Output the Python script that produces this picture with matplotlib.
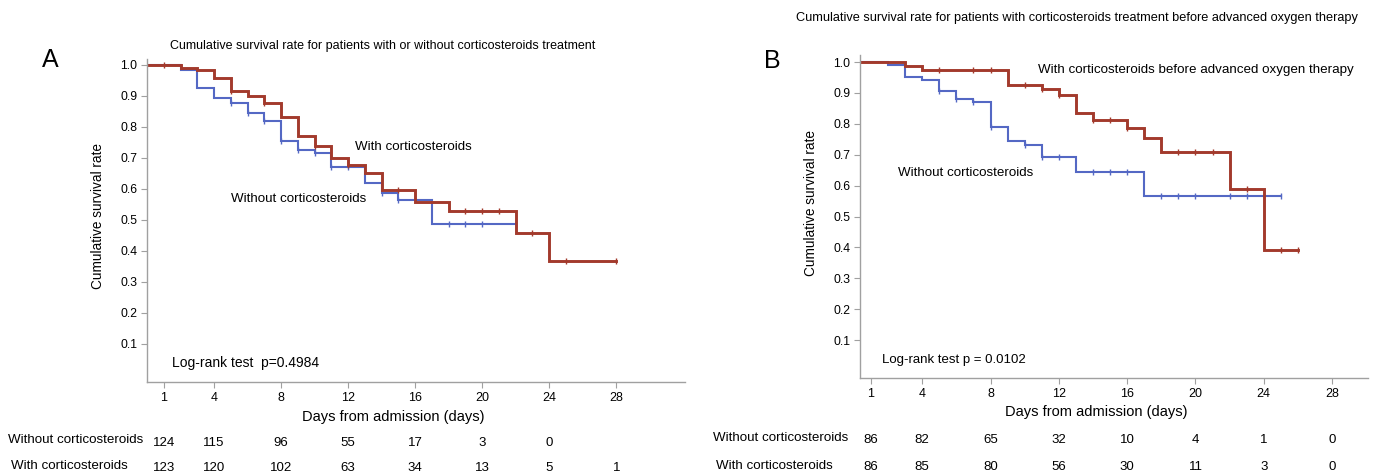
import numpy as np
import matplotlib.pyplot as plt
from matplotlib.transforms import blended_transform_factory

plt.rcParams['font.family'] = ['Liberation Sans', 'DejaVu Sans']
NARROW = ['Liberation Sans Narrow', 'Liberation Sans', 'DejaVu Sans']

W, H = 1376, 475
RED = '#A33A2C'
BLUE = '#5468C4'
GRAY = '#A0A0A0'

day_ticks = [1, 4, 8, 12, 16, 20, 24, 28]
surv_ticks = [0.1, 0.2, 0.3, 0.4, 0.5, 0.6, 0.7, 0.8, 0.9, 1.0]

# Panel A: with / without corticosteroids
a_with_times = [2, 3, 4, 5, 6, 7, 8, 9, 10, 11, 12, 13, 14, 16, 18, 22, 24]
a_with_surv = [0.991, 0.982, 0.957, 0.917, 0.901, 0.876, 0.831, 0.771, 0.739,
               0.699, 0.677, 0.651, 0.595, 0.557, 0.529, 0.457, 0.366]
a_with_end = 28
a_with_censor = [1, 5, 7, 10, 12, 15, 19, 20, 21, 23, 25, 28]

a_without_times = [2, 3, 4, 5, 6, 7, 8, 9, 10, 11, 13, 14, 15, 17]
a_without_surv = [0.984, 0.925, 0.892, 0.878, 0.844, 0.820, 0.753, 0.726,
                  0.717, 0.672, 0.618, 0.586, 0.565, 0.487]
a_without_end = 22
a_without_censor = [5, 6, 7, 8, 9, 10, 11, 12, 14, 15, 18, 19, 20, 22]

a_risk_without = ['124', '115', '96', '55', '17', '3', '0']
a_risk_with = ['123', '120', '102', '63', '34', '13', '5', '1']

# Panel B: corticosteroids before advanced oxygen therapy
b_with_times = [3, 4, 9, 11, 12, 13, 14, 16, 17, 18, 22, 24]
b_with_surv = [0.988, 0.976, 0.926, 0.912, 0.895, 0.836, 0.812, 0.787,
               0.755, 0.708, 0.589, 0.392]
b_with_end = 26
b_with_censor = [5, 7, 8, 10, 11, 12, 14, 15, 16, 19, 20, 21, 23, 25, 26]

b_without_times = [2, 3, 4, 5, 6, 7, 8, 9, 10, 11, 13, 17]
b_without_surv = [0.990, 0.952, 0.943, 0.906, 0.882, 0.872, 0.791, 0.744,
                  0.731, 0.694, 0.645, 0.566]
b_without_end = 25
b_without_censor = [5, 6, 7, 8, 10, 11, 12, 14, 15, 16, 18, 19, 20, 22, 23, 25]

b_risk_without = ['86', '82', '65', '32', '10', '4', '1', '0']
b_risk_with = ['86', '85', '80', '56', '30', '11', '3', '0']


def km_curve(ax, times, surv, end, censor, color, lw):
    x = [0] + list(times) + [end]
    y = [1.0] + list(surv) + [surv[-1]]
    ax.step(x, y, where='post', color=color, lw=lw, solid_joinstyle='miter')
    levels = np.array([1.0] + list(surv))
    idx = np.searchsorted(times, censor, side='right')
    ax.plot(censor, levels[idx], ls='none', marker='|', ms=5, mew=1.0,
            color=color)


def style_axes(ax, xlim, ylim):
    ax.set_xlim(*xlim)
    ax.set_ylim(*ylim)
    ax.set_xticks(day_ticks)
    ax.set_xticklabels([str(d) for d in day_ticks], family=NARROW,
                       fontsize=9)
    ax.set_yticks(surv_ticks)
    ax.set_yticklabels(['%.1f' % v for v in surv_ticks], fontsize=8.8)
    for s in ['top', 'right']:
        ax.spines[s].set_visible(False)
    for s in ['left', 'bottom']:
        ax.spines[s].set_color(GRAY)
        ax.spines[s].set_linewidth(1.0)
    ax.tick_params(direction='out', length=4, color=GRAY, pad=3)


def ftext(x, y, s, **kw):
    fig.text(x / W, 1 - y / H, s, **kw)


def risk_row(ax, values, y):
    tr = blended_transform_factory(ax.transData, fig.transFigure)
    for d, s in zip(day_ticks, values):
        ax.text(d, 1 - y / H, s, transform=tr, family=NARROW, fontsize=9.5,
                ha='center', va='center', clip_on=False)


fig = plt.figure(figsize=(W / 100, H / 100), dpi=100)

# ---- panel A
ax_a = fig.add_axes([147 / W, 1 - 382 / H, (685 - 147) / W, (382 - 59) / H])
km_curve(ax_a, a_without_times, a_without_surv, a_without_end,
         a_without_censor, BLUE, 1.5)
km_curve(ax_a, a_with_times, a_with_surv, a_with_end, a_with_censor, RED, 2.1)
style_axes(ax_a, (0, 32.1), (-0.0226, 1.019))

ftext(50, 60, 'A', fontsize=18, ha='center', va='center')
ftext(383, 46, 'Cumulative survival rate for patients with or without corticosteroids treatment',
      fontsize=9, ha='center', va='center')
ftext(355, 147, 'With corticosteroids', fontsize=9.6, va='center')
ftext(231, 199, 'Without corticosteroids', fontsize=9.6, va='center')
ftext(172, 363, 'Log-rank test  p=0.4984', fontsize=10, va='center')
ftext(393, 417, 'Days from admission (days)', fontsize=10.5, ha='center', va='center')
ftext(98, 216, 'Cumulative survival rate', fontsize=9.8, ha='center', va='center',
      rotation=90)
ftext(8, 440, 'Without corticosteroids', fontsize=9.6, va='center')
ftext(11, 466, 'With corticosteroids', fontsize=9.6, va='center')

risk_row(ax_a, a_risk_without, 443)
risk_row(ax_a, a_risk_with, 468)

# ---- panel B
ax_b = fig.add_axes([860 / W, 1 - 378 / H, (1368 - 860) / W, (378 - 55) / H])
km_curve(ax_b, b_without_times, b_without_surv, b_without_end,
         b_without_censor, BLUE, 1.5)
km_curve(ax_b, b_with_times, b_with_surv, b_with_end, b_with_censor, RED, 2.1)
style_axes(ax_b, (0.36, 30.1), (-0.0227, 1.023))

ftext(772, 61, 'B', fontsize=18, ha='center', va='center')
ftext(1077, 18, 'Cumulative survival rate for patients with corticosteroids treatment before advanced oxygen therapy',
      fontsize=9.2, ha='center', va='center')
ftext(1038, 70, 'With corticosteroids before advanced oxygen therapy',
      fontsize=9.6, va='center')
ftext(898, 173, 'Without corticosteroids', fontsize=9.6, va='center')
ftext(882, 360, 'Log-rank test p = 0.0102', fontsize=9.5, va='center')
ftext(1096, 412, 'Days from admission (days)', fontsize=10.5, ha='center', va='center')
ftext(811, 203, 'Cumulative survival rate', fontsize=9.8, ha='center', va='center',
      rotation=90)
ftext(713, 438, 'Without corticosteroids', fontsize=9.6, va='center')
ftext(716, 466, 'With corticosteroids', fontsize=9.6, va='center')

risk_row(ax_b, b_risk_without, 440)
risk_row(ax_b, b_risk_with, 467)

fig.savefig('out.png', dpi=100)
